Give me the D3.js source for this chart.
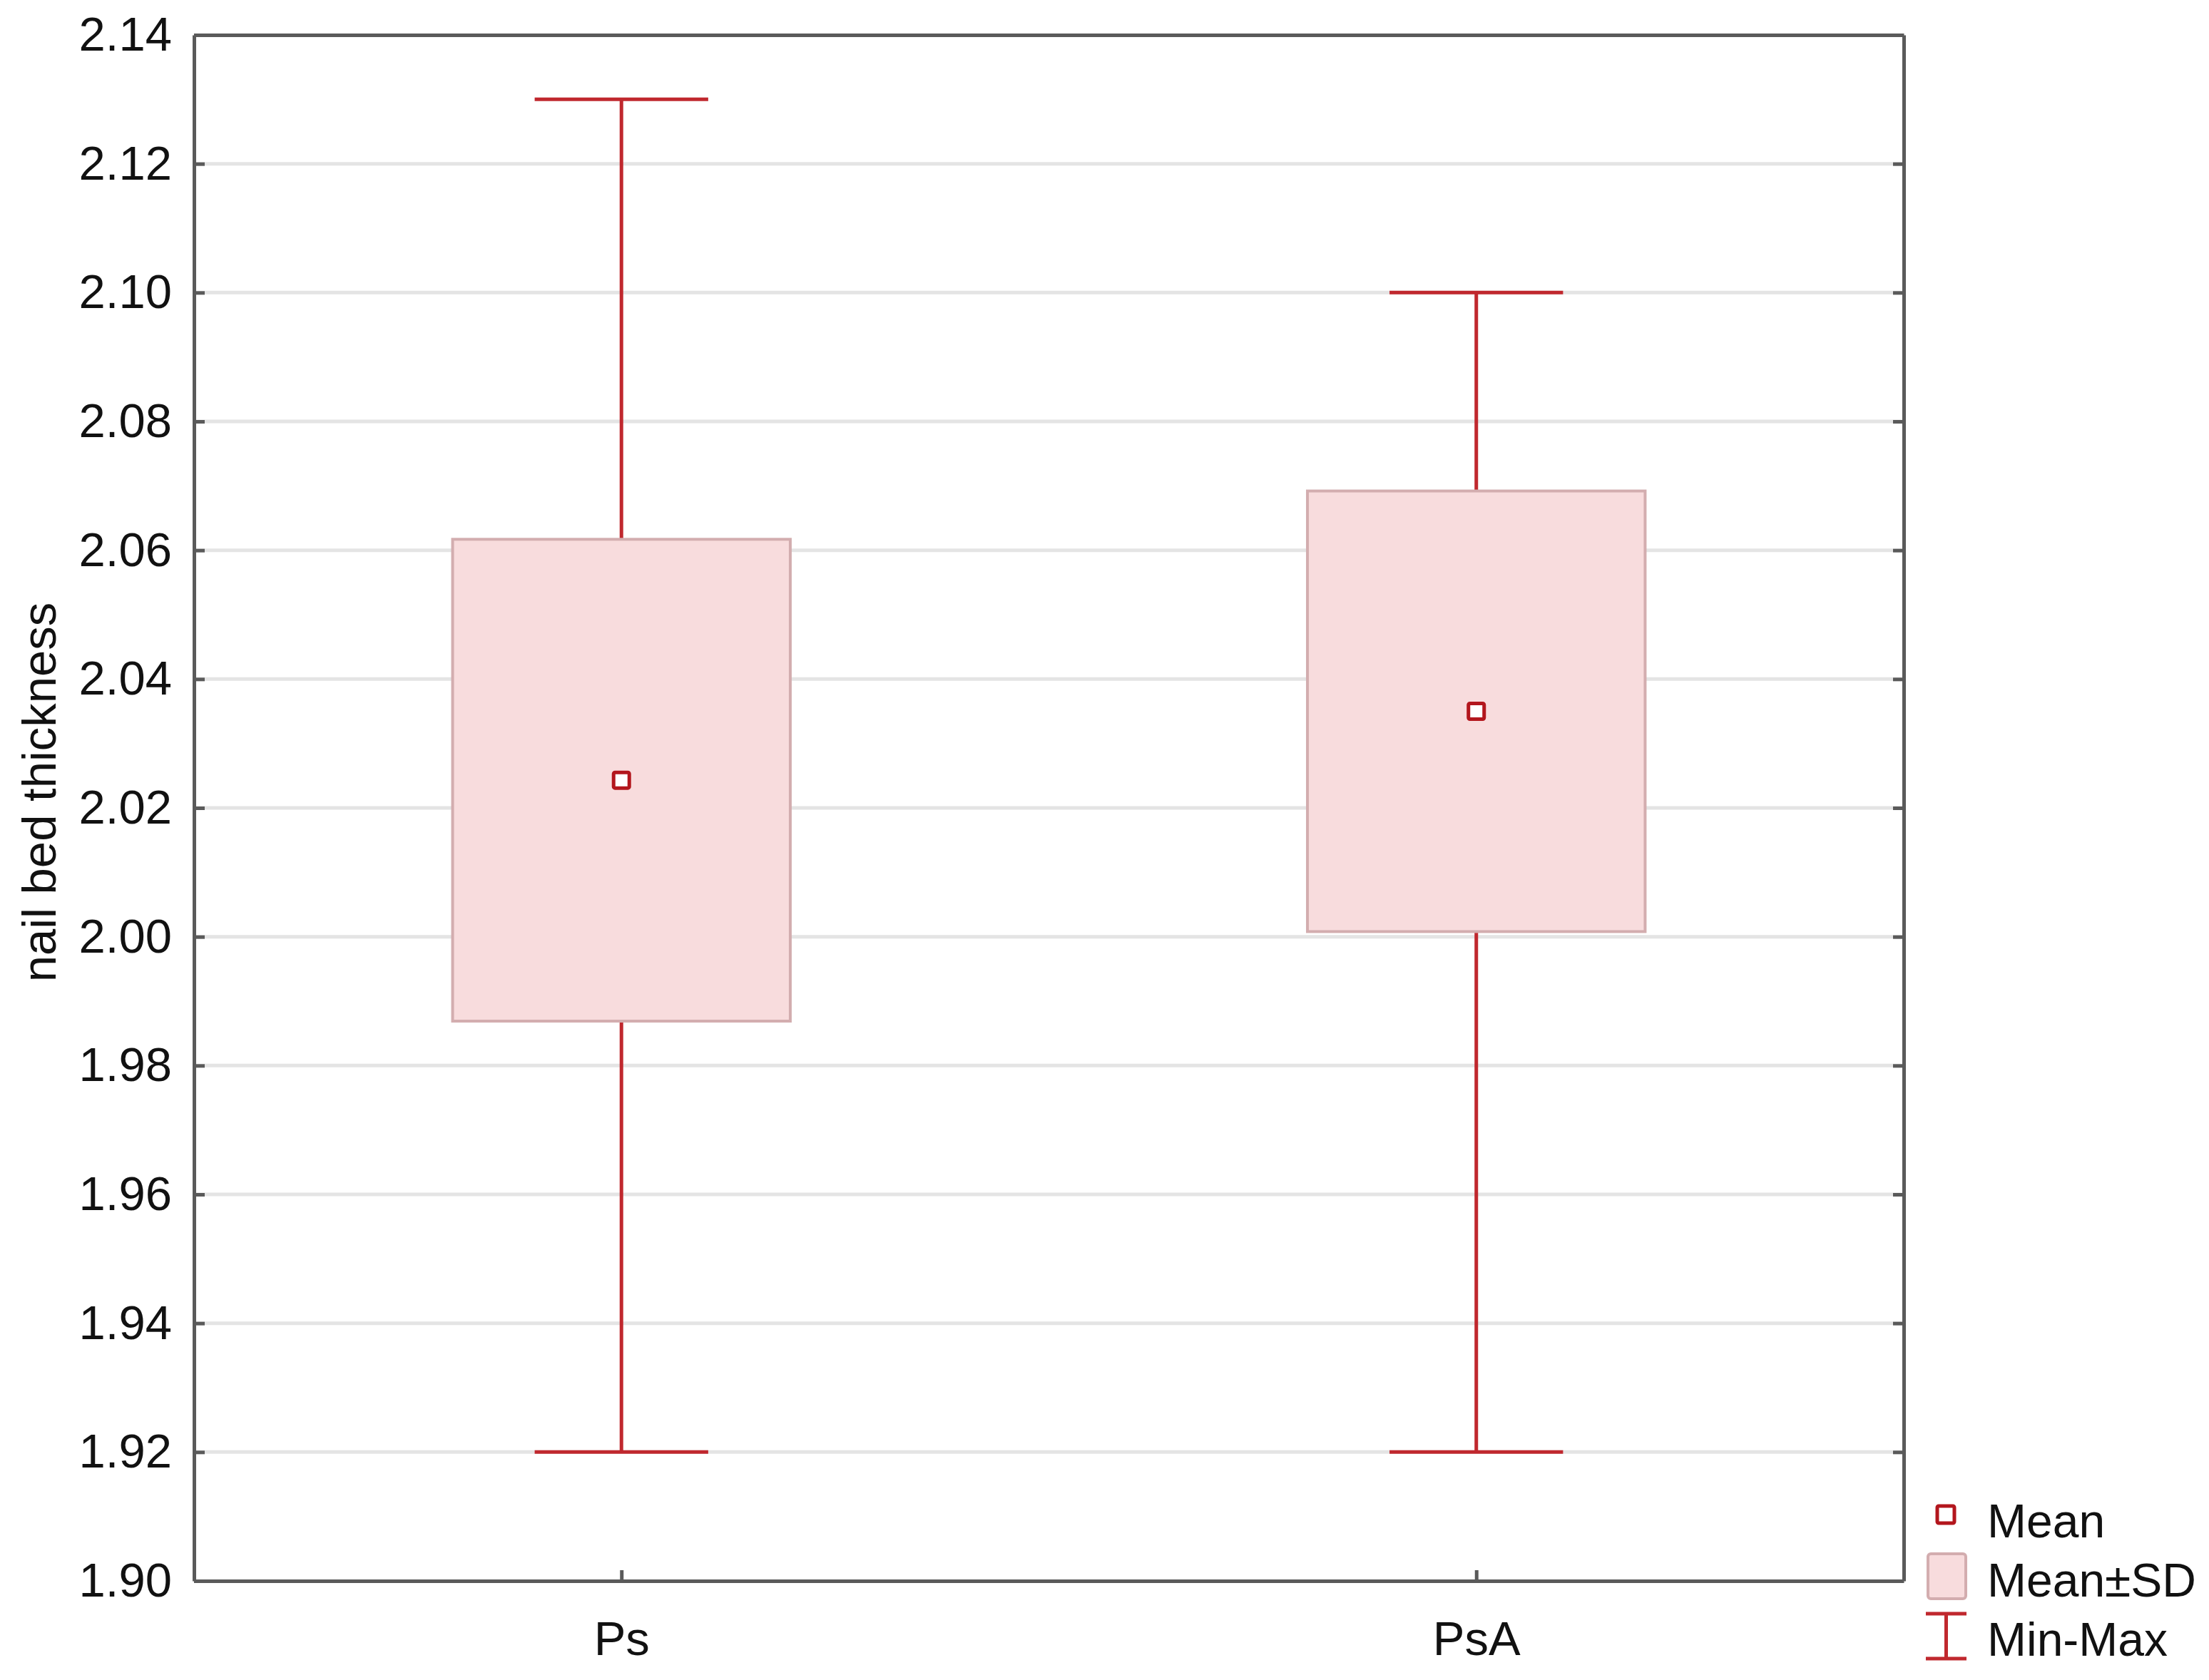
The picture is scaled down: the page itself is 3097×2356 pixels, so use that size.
<!DOCTYPE html>
<meta charset="utf-8">
<style>
    body {
        margin: 0;
        background-color: #fff;
    }

    text {
        font-family: "Liberation Sans", Arial, sans-serif;
        fill: #111;
    }

    .grid line {
        stroke: #e4e4e4;
        stroke-width: 5px;
    }

    .axis path,
    .axis line {
        fill: none;
        stroke: #5a5a5a;
        stroke-width: 5px;
    }

    .axis text {
        font-size: 67px;
    }

    .whisker {
        stroke: #c0282e;
        stroke-width: 5px;
    }

    .box {
        fill: #f8dcdd;
        stroke: #d3adaf;
        stroke-width: 4px;
    }

    .mean {
        fill: #fff;
        stroke: #b3161d;
        stroke-width: 5px;
    }

    .legend text {
        font-size: 66px;
    }
</style>

<body>
    <svg width="3097" height="2356"></svg>
</body>
<script src="https://d3js.org/d3.v7.min.js"></script>
<script>
    // values
    var groups = ["Ps", "PsA"];
    var means = [2.0243, 2.0350];
    var sds = [0.0374, 0.0342];
    var mins = [1.92, 1.92];
    var maxs = [2.13, 2.10];
    var yTicks = [1.90, 1.92, 1.94, 1.96, 1.98, 2.00, 2.02, 2.04, 2.06, 2.08, 2.10, 2.12, 2.14];
    var legendLabels = ["Mean", "Mean\u00b1SD", "Min-Max"];

    var svg = d3.select("svg"),
        margin = {
            top: 49,
            right: 428,
            bottom: 139,
            left: 272
        },
        width = +svg.attr("width") - margin.left - margin.right,
        height = +svg.attr("height") - margin.top - margin.bottom;

    var data = groups.map(function(g, i) {
        return {
            group: g,
            mean: means[i],
            sd: sds[i],
            min: mins[i],
            max: maxs[i]
        };
    });

    var x = d3.scalePoint().domain(groups).range([0, width]).padding(0.5);
    var y = d3.scaleLinear().domain([yTicks[0], yTicks[yTicks.length - 1]]).range([height, 0]);

    var boxW = x.step() * 0.395,
        capW = x.step() * 0.203;

    var g = svg.append("g")
        .attr("transform", "translate(" + margin.left + "," + margin.top + ")");

    // horizontal grid
    g.append("g")
        .attr("class", "grid")
        .selectAll("line")
        .data(yTicks.slice(1, -1))
        .enter().append("line")
        .attr("x1", 0)
        .attr("x2", width)
        .attr("y1", function(d) { return y(d); })
        .attr("y2", function(d) { return y(d); });

    var item = g.selectAll(".item")
        .data(data)
        .enter().append("g")
        .attr("class", "item")
        .attr("transform", function(d) { return "translate(" + x(d.group) + ",0)"; });

    item.append("line")
        .attr("class", "whisker")
        .attr("y1", function(d) { return y(d.min); })
        .attr("y2", function(d) { return y(d.max); });

    item.append("line")
        .attr("class", "whisker")
        .attr("x1", -capW / 2)
        .attr("x2", capW / 2)
        .attr("y1", function(d) { return y(d.max); })
        .attr("y2", function(d) { return y(d.max); });

    item.append("line")
        .attr("class", "whisker")
        .attr("x1", -capW / 2)
        .attr("x2", capW / 2)
        .attr("y1", function(d) { return y(d.min); })
        .attr("y2", function(d) { return y(d.min); });

    item.append("rect")
        .attr("class", "box")
        .attr("x", -boxW / 2)
        .attr("width", boxW)
        .attr("y", function(d) { return y(d.mean + d.sd); })
        .attr("height", function(d) { return y(d.mean - d.sd) - y(d.mean + d.sd); });

    item.append("rect")
        .attr("class", "mean")
        .attr("x", -11)
        .attr("width", 22)
        .attr("y", function(d) { return y(d.mean) - 11; })
        .attr("height", 22)
        .attr("rx", 2);

    // frame with inward ticks
    g.append("g")
        .attr("class", "axis axis--y")
        .call(d3.axisLeft(y).tickValues(yTicks).tickSizeInner(-15).tickSizeOuter(0).tickPadding(31)
            .tickFormat(d3.format(".2f")));

    g.append("g")
        .attr("class", "axis axis--y2")
        .attr("transform", "translate(" + width + ",0)")
        .call(d3.axisRight(y).tickValues(yTicks).tickSizeInner(-15).tickSizeOuter(0).tickFormat(""));

    g.append("g")
        .attr("class", "axis axis--x")
        .attr("transform", "translate(0," + height + ")")
        .call(d3.axisBottom(x).tickSizeInner(-15).tickSizeOuter(0))
        .selectAll("text")
        .attr("y", 104)
        .attr("dy", 0);

    g.append("g")
        .attr("class", "axis axis--top")
        .call(d3.axisTop(x).tickValues([]).tickSizeOuter(0));

    g.selectAll(".axis text").style("fill", "#111");

    svg.append("text")
        .attr("transform", "translate(" + 78 + "," + (margin.top + 1062) + ") rotate(-90)")
        .attr("text-anchor", "middle")
        .style("font-size", "67px")
        .text("nail bed thickness");

    // legend
    var legend = svg.append("g")
        .attr("class", "legend")
        .attr("transform", "translate(2700,2090)");

    var rows = legend.selectAll("g")
        .data(legendLabels)
        .enter().append("g")
        .attr("transform", function(d, i) { return "translate(0," + (i * 83) + ")"; });

    rows.append("text")
        .attr("x", 86)
        .attr("y", 66)
        .text(function(d) { return d; });

    rows.filter(function(d, i) { return i === 0; })
        .append("rect")
        .attr("class", "mean")
        .attr("x", 16)
        .attr("y", 22)
        .attr("width", 24)
        .attr("height", 24)
        .attr("rx", 2);

    rows.filter(function(d, i) { return i === 1; })
        .append("rect")
        .attr("class", "box")
        .attr("x", 3)
        .attr("y", 6)
        .attr("width", 53)
        .attr("height", 63)
        .attr("rx", 4);

    var mm = rows.filter(function(d, i) { return i === 2; });
    mm.append("line").attr("class", "whisker").attr("x1", 0).attr("x2", 57).attr("y1", 7).attr("y2", 7);
    mm.append("line").attr("class", "whisker").attr("x1", 0).attr("x2", 57).attr("y1", 70).attr("y2", 70);
    mm.append("line").attr("class", "whisker").attr("x1", 28.5).attr("x2", 28.5).attr("y1", 7).attr("y2", 70);
</script>
